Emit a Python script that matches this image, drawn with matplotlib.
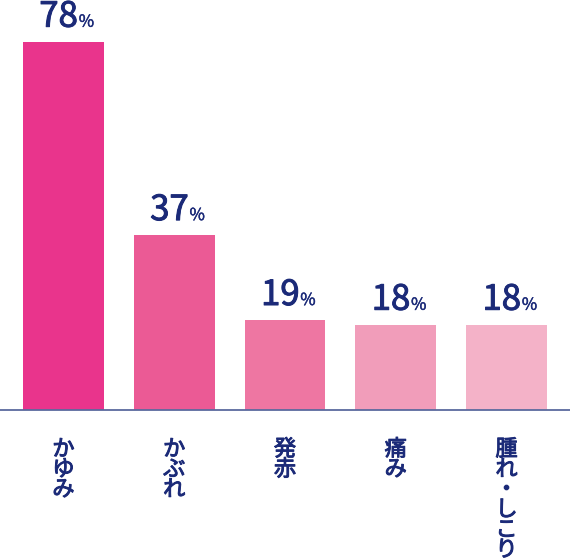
import matplotlib.pyplot as plt
import matplotlib.patheffects as pe

plt.rcParams['font.family'] = ['Noto Sans CJK JP', 'DejaVu Sans']

categories = ['かゆみ', 'かぶれ', '発赤', '痛み', '腫れ・しこり']
values = [78, 37, 19, 18, 18]
bar_colors = ['#E9348C', '#EB5A95', '#EE76A2', '#F19DBA', '#F4B2C8']
navy = '#1B2A78'

fig = plt.figure(figsize=(5.7, 5.6), dpi=100)
ax = fig.add_axes([0, 0.268, 1, 0.732])

x = list(range(len(values)))
ax.bar(x, values, width=0.73, color=bar_colors, zorder=2)
ax.set_xlim(-0.573, 4.573)
ax.set_ylim(0, 86.9)

for s in ['top', 'right', 'left']:
    ax.spines[s].set_visible(False)
ax.spines['bottom'].set_color('#5B6A9E')
ax.spines['bottom'].set_linewidth(1.3)
ax.set_xticks([])
ax.set_yticks([])

# slightly heavier than regular
thick = [pe.withStroke(linewidth=0.7, foreground=navy)]
thin = [pe.withStroke(linewidth=0.3, foreground=navy)]

# value labels: big number + small %
for xi, v in zip(x, values):
    ax.annotate(str(v), xy=(xi, v), xytext=(10.5, 11), textcoords='offset points',
                ha='right', va='baseline', fontsize=25, color=navy, path_effects=thick)
    ax.annotate('%', xy=(xi, v), xytext=(11, 11), textcoords='offset points',
                ha='left', va='baseline', fontsize=12, color=navy, path_effects=thin)

# vertical category labels
for xi, lab in zip(x, categories):
    ax.annotate('\n'.join(lab), xy=(xi, 0), xytext=(0, -20), textcoords='offset points',
                ha='center', va='top', fontsize=16, color=navy, path_effects=thick,
                linespacing=0.84, annotation_clip=False)

fig.savefig('out.png', dpi=100)
